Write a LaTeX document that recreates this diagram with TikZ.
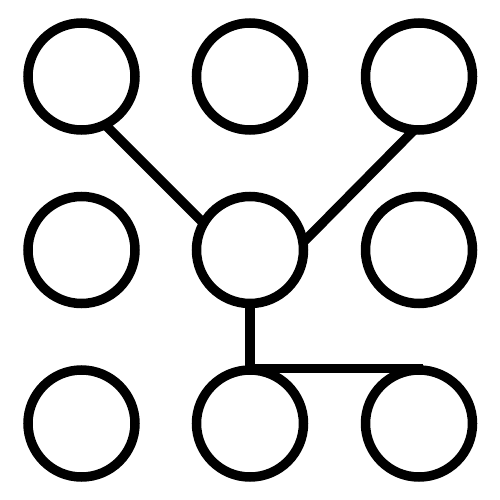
\documentclass[tikz,border=0pt]{standalone}
\begin{document}
\begin{tikzpicture}[x=1pt,y=-1pt,
  ring/.style={circle,draw=black,line width=9.5pt,minimum size=107pt,inner sep=0pt,outer sep=0pt},
  link/.style={draw=black,line width=9.5pt,line cap=butt}]
\useasboundingbox (0,0) rectangle (500,500);
\node[ring] (tl) at (81.5,76.5) {};
\node[ring] (tm) at (250,76.5) {};
\node[ring] (tr) at (419,76.5) {};
\node[ring] (ml) at (81.5,250) {};
\node[ring] (mm) at (250,250) {};
\node[ring] (mr) at (419,250) {};
\node[ring] (bl) at (81.5,423.5) {};
\node[ring] (bm) at (250,423.5) {};
\node[ring] (br) at (419,423.5) {};
\coordinate (e) at (423,368.5);
\path[link] (tl.-64.3) -- (mm.150.3);
\path[link] (tr.265.8) -- (mm.8.5);
\path[link,line join=miter] (mm.south) |- (e);
\end{tikzpicture}
\end{document}
